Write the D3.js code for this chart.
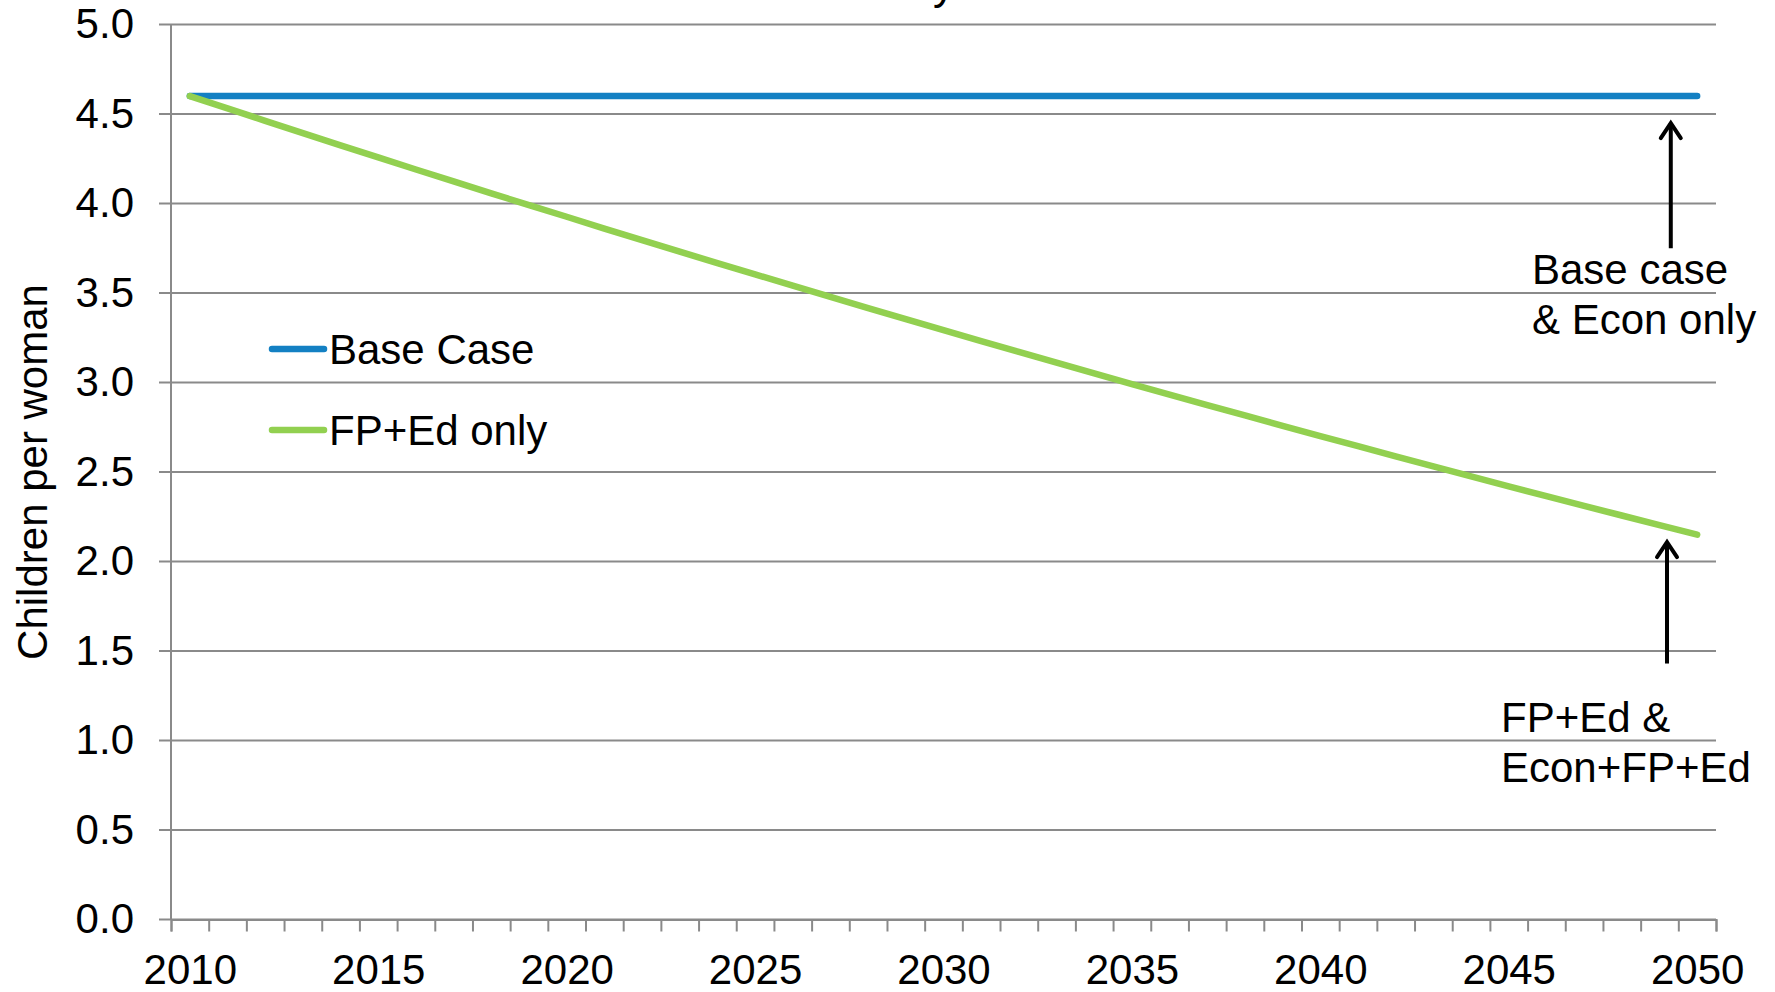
<!DOCTYPE html>
<html>
<head>
<meta charset="utf-8">
<script src="https://cdn.jsdelivr.net/npm/d3@7"></script>
<style>
  html, body { margin: 0; padding: 0; background: #ffffff; }
  svg { display: block; }
  text { font-family: "Liberation Sans", Arial, sans-serif; fill: #000; }
</style>
</head>
<body>
<svg id="chart" width="1775" height="992"></svg>
<script>
// Total fertility by scenario, children per woman, 2010-2050
const years = d3.range(2010, 2051);
const baseCase = [
  4.60, 4.60, 4.60, 4.60, 4.60, 4.60, 4.60, 4.60, 4.60, 4.60,
  4.60, 4.60, 4.60, 4.60, 4.60, 4.60, 4.60, 4.60, 4.60, 4.60,
  4.60, 4.60, 4.60, 4.60, 4.60, 4.60, 4.60, 4.60, 4.60, 4.60,
  4.60, 4.60, 4.60, 4.60, 4.60, 4.60, 4.60, 4.60, 4.60, 4.60,
  4.60
];
const fpEdOnly = [
  4.600, 4.531, 4.462, 4.393, 4.325, 4.258, 4.190, 4.124, 4.057, 3.991,
  3.926, 3.860, 3.796, 3.731, 3.667, 3.604, 3.541, 3.478, 3.416, 3.354,
  3.292, 3.231, 3.171, 3.111, 3.051, 2.991, 2.932, 2.874, 2.816, 2.758,
  2.700, 2.644, 2.587, 2.531, 2.475, 2.420, 2.365, 2.311, 2.257, 2.203,
  2.150
];
const yearLabels = [2010, 2015, 2020, 2025, 2030, 2035, 2040, 2045, 2050];
const valueTicks = [0, 0.5, 1, 1.5, 2, 2.5, 3, 3.5, 4, 4.5, 5];
const seriesNames = ["Base Case", "FP+Ed only"];
const seriesColors = ["#1380c3", "#92d050"];
const axisTitle = "Children per woman";
const chartTitle = "Fertility";
// annotation: year position, arrow tail value, arrow tip value, text lines
const notes = [
  { year: 2049.3, from: 3.75, to: 4.46, lines: ["Base case", "& Econ only"] },
  { year: 2049.2, from: 1.43, to: 2.12, lines: ["FP+Ed &", "Econ+FP+Ed"] }
];

const svg = d3.select("#chart");
const plotLeft = 171, plotRight = 1716, plotTop = 24.5, plotBottom = 919.5;
const gridColor = "#8a8a8a";
const fontSize = 42;

const x = d3.scaleLinear().domain([2009.5, 2050.5]).range([plotLeft, plotRight]);
const y = d3.scaleLinear().domain([0, 5]).range([plotBottom, plotTop]);

// title, running off the top edge
svg.append("text")
  .attr("x", 955).attr("y", -1)
  .attr("text-anchor", "end")
  .style("font-size", "44px")
  .text(chartTitle);

// horizontal gridlines, extending out as tick marks on the left
svg.append("g").selectAll("line")
  .data(valueTicks)
  .join("line")
  .attr("x1", plotLeft - 12).attr("x2", plotRight)
  .attr("y1", d => y(d)).attr("y2", d => y(d))
  .attr("stroke", gridColor).attr("stroke-width", 2);

// vertical axis line
svg.append("line")
  .attr("x1", plotLeft).attr("x2", plotLeft)
  .attr("y1", plotTop).attr("y2", plotBottom)
  .attr("stroke", gridColor).attr("stroke-width", 2);

// y tick labels
const yAxis = svg.append("g")
  .attr("transform", `translate(${plotLeft},0)`)
  .call(d3.axisLeft(y).tickValues(valueTicks).tickFormat(d3.format(".1f")).tickSize(0).tickPadding(37));
yAxis.select(".domain").remove();
yAxis.selectAll("text").style("font-size", fontSize + "px").style("font-family", "Liberation Sans, Arial, sans-serif").attr("fill", "#000");

// x tick marks at category boundaries
const xTicks = svg.append("g")
  .attr("transform", `translate(0,${plotBottom})`)
  .call(d3.axisBottom(x).tickValues(d3.range(2009.5, 2051, 1)).tickSize(12).tickFormat(""));
xTicks.select(".domain").attr("stroke", gridColor).attr("stroke-width", 2);
xTicks.selectAll(".tick line").attr("stroke", gridColor).attr("stroke-width", 2);

// x labels every five years
const xLabels = svg.append("g")
  .attr("transform", `translate(0,${plotBottom})`)
  .call(d3.axisBottom(x).tickValues(yearLabels).tickFormat(d3.format("d")).tickSize(0).tickPadding(35));
xLabels.select(".domain").remove();
xLabels.selectAll("text").style("font-size", fontSize + "px").style("font-family", "Liberation Sans, Arial, sans-serif").attr("fill", "#000");

// y axis title
svg.append("text")
  .attr("transform", `translate(47,${(plotTop + plotBottom) / 2}) rotate(-90)`)
  .attr("text-anchor", "middle")
  .style("font-size", fontSize + "px")
  .text(axisTitle);

// series lines
const line = d3.line().x((d, i) => x(years[i])).y(d => y(d));
[baseCase, fpEdOnly].forEach((vals, k) => {
  svg.append("path")
    .datum(vals)
    .attr("d", line)
    .attr("fill", "none")
    .attr("stroke", seriesColors[k])
    .attr("stroke-width", 6.5)
    .attr("stroke-linecap", "round")
    .attr("stroke-linejoin", "round");
});

// legend
const legendRows = [349, 430];
seriesNames.forEach((name, k) => {
  const g = svg.append("g").attr("transform", `translate(272,${legendRows[k]})`);
  g.append("line")
    .attr("x1", 0).attr("x2", 52).attr("y1", 0).attr("y2", 0)
    .attr("stroke", seriesColors[k]).attr("stroke-width", 6.5)
    .attr("stroke-linecap", "round");
  g.append("text")
    .attr("x", 57).attr("y", 15)
    .style("font-size", fontSize + "px")
    .text(name);
});

// annotations with arrows
const textPos = [
  { x: 1532, y: 284 },
  { x: 1501, y: 732 }
];
notes.forEach((n, k) => {
  const ax = x(n.year), y0 = y(n.from), y1 = y(n.to);
  svg.append("line")
    .attr("x1", ax).attr("x2", ax).attr("y1", y0).attr("y2", y1 + 2)
    .attr("stroke", "#000").attr("stroke-width", 4);
  svg.append("path")
    .attr("d", `M${ax - 10},${y1 + 17} L${ax},${y1 + 2} L${ax + 10},${y1 + 17}`)
    .attr("fill", "none").attr("stroke", "#000").attr("stroke-width", 4)
    .attr("stroke-linecap", "round").attr("stroke-linejoin", "miter");
  const t = svg.append("text")
    .attr("x", textPos[k].x).attr("y", textPos[k].y)
    .style("font-size", fontSize + "px");
  n.lines.forEach((s, i) => {
    t.append("tspan").attr("x", textPos[k].x).attr("dy", i === 0 ? 0 : 50).text(s);
  });
});
</script>
</body>
</html>
